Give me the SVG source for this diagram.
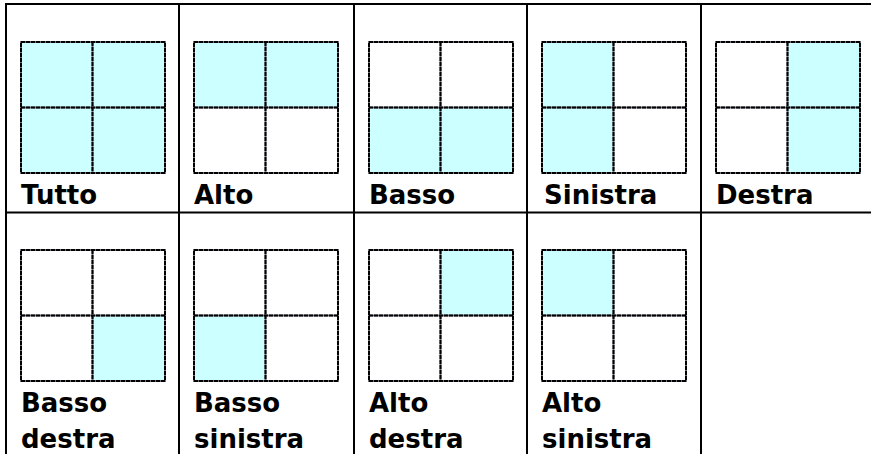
<svg xmlns="http://www.w3.org/2000/svg" width="871" height="454" viewBox="0 0 871 454">
<style>
  .grid { stroke:#000; stroke-width:2; fill:none; }
  .on { fill:#CCFFFF; stroke:none; }
  .under { fill:none; stroke:#6e6e7a; stroke-width:2; }
  .dash { fill:none; stroke:#000; stroke-width:2; stroke-dasharray:4 1; }
  .lbl { font-family:"DejaVu Sans", Verdana, sans-serif; font-weight:bold; font-size:26px; fill:#000; }
</style>
<defs>
  <g id="frame">
    <rect class="under" x="0" y="0" width="144" height="131"/>
    <line class="under" x1="71.5" y1="0" x2="71.5" y2="131"/>
    <line class="under" x1="0" y1="65.5" x2="144" y2="65.5"/>
    <rect class="dash" x="0" y="0" width="144" height="131"/>
    <line class="dash" x1="71.5" y1="0" x2="71.5" y2="131"/>
    <line class="dash" x1="0" y1="65.5" x2="144" y2="65.5"/>
  </g>
</defs>
<rect x="0" y="0" width="871" height="454" fill="#fff"/>
<g id="connectors">
  <g class="grid">
    <line x1="5" y1="4" x2="871" y2="4"/>
    <line x1="5" y1="212.5" x2="871" y2="212.5"/>
    <line x1="6" y1="3" x2="6" y2="454"/>
    <line x1="179" y1="3" x2="179" y2="454"/>
    <line x1="354" y1="3" x2="354" y2="454"/>
    <line x1="527" y1="3" x2="527" y2="454"/>
    <line x1="701" y1="3" x2="701" y2="454"/>
  </g>
</g>
<g id="tutto" transform="translate(21,42)">
  <rect class="on" x="0" y="0" width="144" height="131"/>
  <use href="#frame"/>
  <text class="lbl" x="0" y="162">Tutto</text>
</g>
<g id="alto" transform="translate(194,42)">
  <rect class="on" x="0" y="0" width="144" height="65.5"/>
  <use href="#frame"/>
  <text class="lbl" x="0" y="162">Alto</text>
</g>
<g id="basso" transform="translate(369,42)">
  <rect class="on" x="0" y="65.5" width="144" height="65.5"/>
  <use href="#frame"/>
  <text class="lbl" x="0" y="162">Basso</text>
</g>
<g id="sinistra" transform="translate(542,42)">
  <rect class="on" x="0" y="0" width="71.5" height="131"/>
  <use href="#frame"/>
  <text class="lbl" x="2" y="162">Sinistra</text>
</g>
<g id="destra" transform="translate(716,42)">
  <rect class="on" x="71.5" y="0" width="72.5" height="131"/>
  <use href="#frame"/>
  <text class="lbl" x="0" y="162">Destra</text>
</g>
<g id="basso-destra" transform="translate(21,250)">
  <rect class="on" x="71.5" y="65.5" width="72.5" height="65.5"/>
  <use href="#frame"/>
  <text class="lbl" x="0" y="162">Basso</text>
  <text class="lbl" x="0" y="198">destra</text>
</g>
<g id="basso-sinistra" transform="translate(194,250)">
  <rect class="on" x="0" y="65.5" width="71.5" height="65.5"/>
  <use href="#frame"/>
  <text class="lbl" x="0" y="162">Basso</text>
  <text class="lbl" x="0" y="198">sinistra</text>
</g>
<g id="alto-destra" transform="translate(369,250)">
  <rect class="on" x="71.5" y="0" width="72.5" height="65.5"/>
  <use href="#frame"/>
  <text class="lbl" x="0" y="162">Alto</text>
  <text class="lbl" x="0" y="198">destra</text>
</g>
<g id="alto-sinistra" transform="translate(542,250)">
  <rect class="on" x="0" y="0" width="71.5" height="65.5"/>
  <use href="#frame"/>
  <text class="lbl" x="0" y="162">Alto</text>
  <text class="lbl" x="0" y="198">sinistra</text>
</g>
</svg>
